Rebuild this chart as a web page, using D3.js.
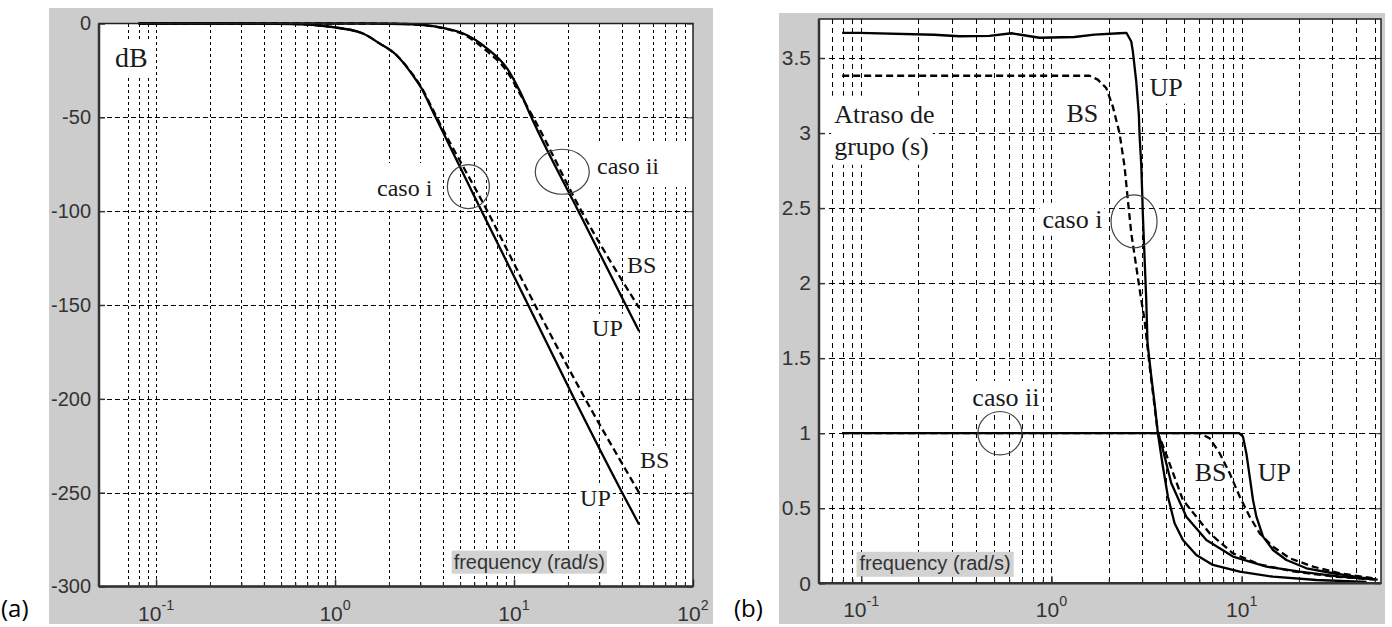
<!DOCTYPE html>
<html><head><meta charset="utf-8">
<script src="https://cdn.jsdelivr.net/npm/d3@7"></script>
<style>body{margin:0;background:#fff;} svg{display:block}</style>
</head><body>
<svg id="c" width="1392" height="627"></svg>
<script>
// ---------- DATA: panel (a) magnitude (dB) ----------
const aXTicks = [0.1, 1, 10, 100];
const aXTickExp = ["-1", "0", "1", "2"];
const aYTicks = [0, -50, -100, -150, -200, -250, -300];
const aYTickLabels = ["0", "-50", "-100", "-150", "-200", "-250", "-300"];
const aGridX = [0.07,0.08,0.09,0.1,0.2,0.3,0.4,0.5,0.6,0.7,0.8,0.9,1,2,3,4,5,6,7,8,9,10,20,30,40,50,60,70,80,90];
const aGridY = [-50, -100, -150, -200, -250];

const aCaseIUpF  = [0.08, 0.3, 0.6, 0.925, 1.42, 1.77, 2.2, 2.71, 3.04, 3.38, 3.65, 6.6, 12.0, 21.7, 40.2, 50];
const aCaseIUpDb = [0, 0, -0.3, -1.7, -5.2, -10.6, -16.8, -27.4, -34.5, -43.4, -50, -100, -150, -200, -250, -267];
const aCaseIBsF  = [0.08, 0.3, 0.6, 0.925, 1.42, 1.77, 2.2, 2.71, 3.04, 3.38, 3.7, 7.1, 13.1, 25.0, 50];
const aCaseIBsDb = [0, 0, -0.3, -1.7, -5.2, -10.6, -16.8, -27.0, -34.0, -42.5, -50, -100, -150, -200, -250];
const aCaseIIUpF  = [0.08, 1.5, 2.7, 3.6, 4.3, 5.17, 7.05, 9.14, 10.8, 12.5, 22.9, 42.1, 50];
const aCaseIIUpDb = [0, 0, -0.4, -1.5, -3.0, -5.2, -13.2, -23.9, -36.3, -50, -100, -150, -164];
const aCaseIIBsF  = [0.08, 1.5, 2.7, 3.6, 4.3, 5.17, 7.0, 9.14, 10.8, 12.8, 23.8, 50];
const aCaseIIBsDb = [0, 0, -0.4, -1.6, -3.2, -5.6, -14.5, -25.5, -37.5, -50, -100, -151.5];

// ---------- DATA: panel (b) group delay (s) ----------
const bXTicks = [0.1, 1, 10];
const bXTickExp = ["-1", "0", "1"];
const bYTicks = [0, 0.5, 1, 1.5, 2, 2.5, 3, 3.5];
const bYTickLabels = ["0", "0.5", "1", "1.5", "2", "2.5", "3", "3.5"];
const bGridX = [0.07,0.08,0.09,0.1,0.2,0.3,0.4,0.5,0.6,0.7,0.8,0.9,1,2,3,4,5,6,7,8,9,10,20,30,40,50];
const bGridY = [0.5, 1, 1.5, 2, 2.5, 3, 3.5];

const bCaseIUpF = [0.0794,0.0976,0.242,0.328,0.472,0.616,0.865,1.321,1.684,2.279,2.481,2.628,2.679,2.791,2.881,2.905,2.965,3.002,3.024,3.15,3.2,3.348,3.484,3.627,3.853,4.094,4.44,4.911,5.775,7.063,9.761,14.61,24.74,45.33];
const bCaseIUpV = [3.667,3.667,3.655,3.645,3.648,3.665,3.635,3.64,3.656,3.665,3.667,3.61,3.544,3.344,3.122,2.989,2.789,2.589,2.455,1.889,1.6,1.378,1.2,1.0,0.778,0.578,0.4,0.289,0.189,0.122,0.078,0.044,0.022,0.01];
const bCaseIUp2F = [3.627,3.779,4.266,5.117,6.52,9.0,13.49,20.2,32.8,51.9];
const bCaseIUp2V = [1.0,0.933,0.667,0.444,0.289,0.178,0.111,0.078,0.045,0.025];
const bCaseIBsF = [0.0794,1.585,1.753,1.941,2.101,2.279,2.423,2.521,2.628,2.791,2.965,3.087,3.28,3.627,3.933,4.911,6.785,9.0,12.44,18.62,30.23,51.2];
const bCaseIBsV = [3.382,3.382,3.356,3.30,3.178,3.0,2.778,2.555,2.333,2.111,1.889,1.755,1.45,1.0,0.889,0.555,0.333,0.2,0.125,0.08,0.045,0.025];
const bCaseIIUpF = [0.0794,9.7,10.16,10.58,11.02,11.47,11.95,12.95,14.61,17.19,21.9,30.23,45.33];
const bCaseIIUpV = [1.0,1.0,0.977,0.867,0.711,0.555,0.444,0.311,0.222,0.155,0.1,0.067,0.033];
const bCaseIIBsF = [0.0794,6.01,6.785,7.66,8.65,9.761,11.02,12.44,14.61,17.89,23.73,32.8,49.1];
const bCaseIIBsV = [1.0,1.0,0.967,0.867,0.733,0.578,0.444,0.333,0.244,0.167,0.111,0.067,0.033];

// ---------- drawing ----------
const svg = d3.select("#c");
const GRAY = "#cccccc";
const SANS = "'Liberation Sans', Arial, sans-serif";
const SERIF = "'Liberation Serif', 'Times New Roman', serif";

function zip(f, v){ return f.map((d,i)=>({f:d, v:v[i]})); }
const px = v => Math.round(v) + 0.5;

function panel(cfg){
  const g = svg.append("g");
  g.append("rect").attr("x",cfg.bg[0]).attr("y",cfg.bg[1]).attr("width",cfg.bg[2]).attr("height",cfg.bg[3]).attr("fill",GRAY);
  const x = cfg.x, y = cfg.y;
  const [x0,x1] = x.range(), [y0,y1] = y.range();
  g.append("rect").attr("x",x0).attr("y",y1).attr("width",x1-x0).attr("height",y0-y1).attr("fill","#fff");
  const grid = g.append("g").attr("shape-rendering","crispEdges");
  grid.selectAll("line.v").data(cfg.gridX).join("line")
    .attr("x1",d=>px(x(d))).attr("x2",d=>px(x(d))).attr("y1",y1).attr("y2",y0)
    .attr("stroke","#000").attr("stroke-width",1).attr("stroke-dasharray",cfg.vDash);
  grid.selectAll("line.h").data(cfg.gridY).join("line")
    .attr("x1",x0).attr("x2",x1).attr("y1",d=>px(y(d))).attr("y2",d=>px(y(d)))
    .attr("stroke","#000").attr("stroke-width",1).attr("stroke-dasharray",cfg.hDash);
  return g;
}

function labelBox(g, x, y, txt, size, pad, family){
  const t = g.append("text").attr("x",x).attr("y",y).attr("font-family",family||SERIF)
    .attr("font-size",size).attr("fill","#1a1a1a").text(txt);
  const b = t.node().getBBox();
  g.insert("rect", () => t.node()).attr("x",b.x-pad[0]).attr("y",b.y-pad[1])
    .attr("width",b.width+pad[0]+pad[2]).attr("height",b.height+pad[1]+pad[3]).attr("fill","#fff");
  return t;
}

function axes(g, cfg){
  const x = cfg.x, y = cfg.y;
  const [x0,x1] = x.range(), [y0,y1] = y.range();
  const yAxis = d3.axisLeft(y).tickValues(cfg.yTicks).tickSize(-6).tickPadding(8)
    .tickFormat((d,i)=>cfg.yLabels[i]);
  const ya = g.append("g").attr("transform",`translate(${x0},0)`).call(yAxis);
  ya.select(".domain").remove();
  ya.selectAll("line").attr("stroke","#333").attr("stroke-width",1.5);
  ya.selectAll("text").attr("font-family",SANS).attr("font-size",cfg.yFont).attr("fill","#333");
  const yr = g.append("g").attr("transform",`translate(${x1},0)`).call(d3.axisRight(y).tickValues(cfg.yTicks).tickSize(-6).tickFormat(""));
  yr.select(".domain").remove(); yr.selectAll("line").attr("stroke","#333");
  const xa = g.append("g").attr("transform",`translate(0,${y0})`).call(d3.axisBottom(x).tickValues(cfg.gridX).tickSize(-4).tickFormat(""));
  xa.select(".domain").remove(); xa.selectAll("line").attr("stroke","#333");
  const xa2 = g.append("g").attr("transform",`translate(0,${y0})`).call(d3.axisBottom(x).tickValues(cfg.xTicks.filter(d=>d>=x.domain()[0]&&d<=x.domain()[1])).tickSize(-7).tickFormat(""));
  xa2.select(".domain").remove(); xa2.selectAll("line").attr("stroke","#333").attr("stroke-width",1.5);
  cfg.xTicks.forEach((d,i)=>{
    const t = g.append("text").attr("x",x(d)).attr("y",y0+34).attr("text-anchor","middle")
      .attr("font-family",SANS).attr("font-size",cfg.xFont).attr("fill","#333");
    t.append("tspan").text("10");
    t.append("tspan").attr("dy",-11).attr("font-size",cfg.xFont*0.68).text(cfg.xExp[i]);
  });
  g.append("rect").attr("x",x0).attr("y",y1).attr("width",x1-x0).attr("height",y0-y1)
    .attr("fill","none").attr("stroke","#222").attr("stroke-width",1.5);
  g.append("line").attr("x1",x0).attr("x2",x0).attr("y1",y1).attr("y2",y0).attr("stroke","#333").attr("stroke-width",2.5);
  g.append("line").attr("x1",x0).attr("x2",x1).attr("y1",y0).attr("y2",y0).attr("stroke","#333").attr("stroke-width",2.5);
}

function curve(g, x, y, data, dashed, smooth){
  const line = d3.line().x(d=>x(d.f)).y(d=>y(d.v)).curve(smooth ? d3.curveMonotoneX : d3.curveLinear);
  g.append("path").datum(data).attr("d",line).attr("fill","none").attr("stroke","#000")
    .attr("stroke-width",2.3).attr("stroke-linejoin","round")
    .attr("stroke-dasharray",dashed?"7,4":null);
}

// ===== Panel (a) =====
const xA = d3.scaleLog().domain([0.048, 100]).range([99, 693]);
const yA = d3.scaleLinear().domain([-300, 0]).range([586.5, 23.5]);
const cfgA = {bg:[49,8,664,616], x:xA, y:yA, gridX:aGridX, gridY:aGridY, vDash:"3,3", hDash:"5,3",
  yTicks:aYTicks, yLabels:aYTickLabels, yFont:20, xTicks:aXTicks, xExp:aXTickExp, xFont:21};
const gA = panel(cfgA);
labelBox(gA, xA(0.059), yA(-23.2), "dB", 28, [5,3,4,3]);
labelBox(gA, xA(1.717), yA(-91.9), "caso i", 24, [10,12,6,6]);
labelBox(gA, xA(29.1), yA(-80.2), "caso ii", 24, [6,10,30,8]);
labelBox(gA, xA(42.8), yA(-132.9), "BS", 24, [2,1,2,1]);
labelBox(gA, xA(27.3), yA(-166.5), "UP", 24, [2,1,2,1]);
labelBox(gA, xA(50.6), yA(-236.8), "BS", 24, [2,1,2,1]);
labelBox(gA, xA(23.4), yA(-257.1), "UP", 24, [2,1,2,1]);
curve(gA, xA, yA, zip(aCaseIUpF, aCaseIUpDb), false, true);
curve(gA, xA, yA, zip(aCaseIBsF, aCaseIBsDb), true, true);
curve(gA, xA, yA, zip(aCaseIIUpF, aCaseIIUpDb), false, true);
curve(gA, xA, yA, zip(aCaseIIBsF, aCaseIIBsDb), true, true);
gA.append("ellipse").attr("cx",xA(5.56)).attr("cy",yA(-86.9)).attr("rx",21).attr("ry",22).attr("fill","none").attr("stroke","#444").attr("stroke-width",1.2);
gA.append("ellipse").attr("cx",xA(18.6)).attr("cy",yA(-79)).attr("rx",27).attr("ry",22.5).attr("fill","none").attr("stroke","#444").attr("stroke-width",1.2);
{
  const t = gA.append("text").attr("x",xA(4.6)).attr("y",yA(-290.5)).attr("font-family",SANS).attr("font-size",20).attr("fill","#333").text("frequency (rad/s)");
  const b = t.node().getBBox();
  gA.insert("rect",()=>t.node()).attr("x",b.x-2).attr("y",b.y).attr("width",b.width+4).attr("height",b.height+1).attr("fill","#d2d2d2");
}
axes(gA, cfgA);

// ===== Panel (b) =====
const xB = d3.scaleLog().domain([0.06, 54]).range([819, 1381]);
const yB = d3.scaleLinear().domain([0, 3.76]).range([583.3, 19]);
const cfgB = {bg:[779,13,606,611], x:xB, y:yB, gridX:bGridX, gridY:bGridY, vDash:"5,4", hDash:"6,4",
  yTicks:bYTicks, yLabels:bYTickLabels, yFont:21, xTicks:bXTicks, xExp:bXTickExp, xFont:21};
const gB = panel(cfgB);
labelBox(gB, xB(0.0721), yB(3.069), "Atraso de", 26, [3,4,4,2]);
labelBox(gB, xB(0.0721), yB(2.855), "grupo (s)", 26, [3,2,4,4]);
labelBox(gB, xB(3.28), yB(3.249), "UP", 26, [3,2,3,2]);
labelBox(gB, xB(1.199), yB(3.075), "BS", 26, [2,1,2,1]);
labelBox(gB, xB(0.897), yB(2.369), "caso i", 26, [3,2,2,2]);
labelBox(gB, xB(0.384), yB(1.182), "caso ii", 26, [3,2,3,2]);
labelBox(gB, xB(5.66), yB(0.682), "BS", 26, [2,1,2,1]);
labelBox(gB, xB(12.14), yB(0.682), "UP", 26, [2,1,2,1]);
curve(gB, xB, yB, zip(bCaseIUpF, bCaseIUpV), false, false);
curve(gB, xB, yB, zip(bCaseIUp2F, bCaseIUp2V), false, false);
curve(gB, xB, yB, zip(bCaseIBsF, bCaseIBsV), true, false);
curve(gB, xB, yB, zip(bCaseIIUpF, bCaseIIUpV), false, false);
curve(gB, xB, yB, zip(bCaseIIBsF, bCaseIIBsV), true, false);
gB.append("ellipse").attr("cx",xB(2.718)).attr("cy",yB(2.411)).attr("rx",23).attr("ry",26.5).attr("fill","none").attr("stroke","#444").attr("stroke-width",1.2);
gB.append("ellipse").attr("cx",xB(0.536)).attr("cy",yB(1.0)).attr("rx",22).attr("ry",21.7).attr("fill","none").attr("stroke","#444").attr("stroke-width",1.2);
{
  const t = gB.append("text").attr("x",xB(0.098)).attr("y",yB(0.09)).attr("font-family",SANS).attr("font-size",20).attr("fill","#333").text("frequency (rad/s)");
  const b = t.node().getBBox();
  gB.insert("rect",()=>t.node()).attr("x",b.x-3).attr("y",b.y).attr("width",b.width+6).attr("height",b.height+3).attr("fill","#d2d2d2");
}
axes(gB, cfgB);

// panel letters
svg.append("text").attr("x",1).attr("y",617).attr("font-family","'Open Sans', sans-serif").attr("font-size",24).attr("fill","#000").text("(a)");
svg.append("text").attr("x",734).attr("y",617).attr("font-family","'Open Sans', sans-serif").attr("font-size",24).attr("fill","#000").text("(b)");
</script>
</body></html>
